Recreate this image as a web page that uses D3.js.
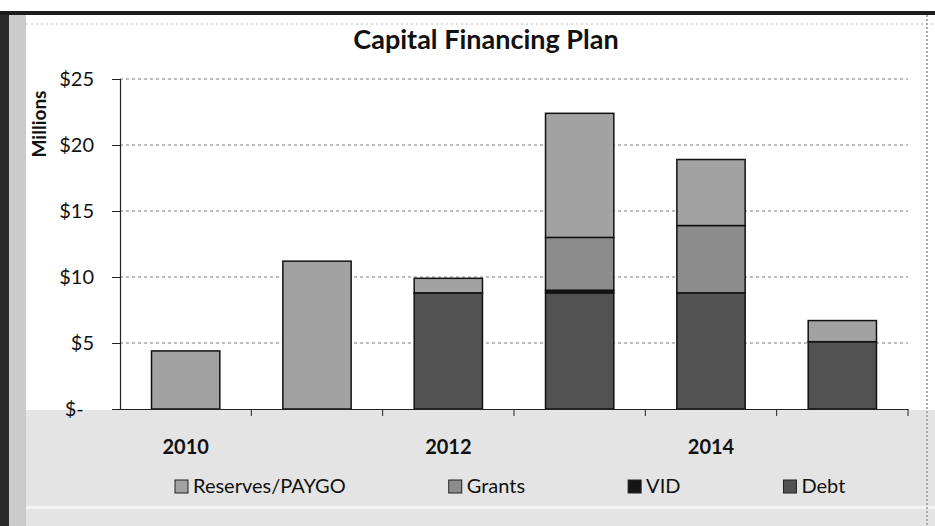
<!DOCTYPE html>
<html>
<head>
<meta charset="utf-8">
<script src="https://cdn.jsdelivr.net/npm/d3@7"></script>
<style>
  html, body { margin: 0; padding: 0; background: #fff; }
  svg { display: block; }
  text { font-family: Lato, "Open Sans", "DejaVu Sans", sans-serif; fill: #111; }
</style>
</head>
<body>
<svg id="chart" width="935" height="526"></svg>
<script>
// ---- data ----
const years = ["2010", "2011", "2012", "2013", "2014", "2015"];
const shownYearLabels = ["2010", "2012", "2014"];
const debt     = [0,   0,    8.8, 8.8, 8.8, 5.1];
const vid      = [0,   0,    0,   0.2, 0,   0];
const grants   = [0,   0,    0,   4.0, 5.1, 0];
const reserves = [4.4, 11.2, 1.1, 9.4, 5.0, 1.6];
const seriesNames = ["Reserves/PAYGO", "Grants", "VID", "Debt"];
const yTicks = [0, 5, 10, 15, 20, 25];
const title = "Capital Financing Plan";
const yTitle = "Millions";

// ---- layout ----
const W = 935, H = 526;
const plot = { left: 120, right: 908, top: 79, bottom: 409 };
const colors = {
  "Reserves/PAYGO": "#a2a2a2",
  "Grants": "#8c8c8c",
  "VID": "#151515",
  "Debt": "#525252"
};

const svg = d3.select("#chart");

// background / scanned frame
svg.append("rect").attr("x", 0).attr("y", 0).attr("width", W).attr("height", H).attr("fill", "#fff");
svg.append("rect").attr("x", 8).attr("y", plot.bottom + 1).attr("width", W - 8).attr("height", H - plot.bottom - 1).attr("fill", "#e4e4e4");
svg.append("rect").attr("x", 8).attr("y", 506).attr("width", W - 8).attr("height", 3).attr("fill", "#f4f4f4");
svg.append("rect").attr("x", 0).attr("y", 12).attr("width", 9).attr("height", H - 12).attr("fill", "#2b2b2b");
svg.append("rect").attr("x", 9).attr("y", 14).attr("width", 17).attr("height", H - 14).attr("fill", "#cbcbcb");
svg.append("rect").attr("x", 0).attr("y", 11).attr("width", W).attr("height", 4).attr("fill", "#1c1c1c");
svg.append("line").attr("x1", 26).attr("x2", W).attr("y1", 24).attr("y2", 24)
  .attr("stroke", "#bbb").attr("stroke-width", 1).attr("stroke-dasharray", "2,3");
svg.append("line").attr("x1", 927).attr("x2", 927).attr("y1", 15).attr("y2", H)
  .attr("stroke", "#aaa").attr("stroke-width", 2).attr("stroke-dasharray", "2,2");

// scales
const x = d3.scaleBand().domain(years).range([plot.left, plot.right]).paddingInner(0.48).paddingOuter(0.24);
const y = d3.scaleLinear().domain([0, 25]).range([plot.bottom, plot.top]);

// gridlines
svg.append("g")
  .selectAll("line")
  .data(yTicks.filter(d => d > 0))
  .join("line")
  .attr("x1", plot.left).attr("x2", plot.right)
  .attr("y1", d => y(d)).attr("y2", d => y(d))
  .attr("stroke", "#7a7a7a").attr("stroke-width", 1).attr("stroke-dasharray", "3,3");

// stacked bars (bottom -> top: Debt, VID, Grants, Reserves/PAYGO)
const table = years.map((yr, i) => ({
  year: yr,
  "Debt": debt[i], "VID": vid[i], "Grants": grants[i], "Reserves/PAYGO": reserves[i]
}));
const stackKeys = ["Debt", "VID", "Grants", "Reserves/PAYGO"];
const stacked = d3.stack().keys(stackKeys)(table);

svg.append("g")
  .selectAll("g")
  .data(stacked)
  .join("g")
  .attr("fill", d => colors[d.key])
  .selectAll("rect")
  .data(d => d.filter(s => s[1] - s[0] > 0))
  .join("rect")
  .attr("x", d => x(d.data.year))
  .attr("width", x.bandwidth())
  .attr("y", d => y(d[1]))
  .attr("height", d => y(d[0]) - y(d[1]))
  .attr("stroke", "#111")
  .attr("stroke-width", 1.5);

// y axis
const yAxis = d3.axisLeft(y)
  .tickValues(yTicks)
  .tickSize(8)
  .tickPadding(18)
  .tickFormat(d => d === 0 ? "$-  " : "$" + d);
const gy = svg.append("g").attr("transform", `translate(${plot.left},0)`).call(yAxis);
gy.select(".domain").attr("stroke", "#222").attr("stroke-width", 1.2);
gy.selectAll(".tick line").attr("stroke", "#222");
gy.selectAll(".tick text").style("font-size", "20px").attr("fill", "#111")
  .attr("xml:space", "preserve").style("white-space", "pre");

// x axis
const xAxis = d3.axisBottom(x).tickSize(0).tickPadding(31)
  .tickFormat(d => shownYearLabels.includes(d) ? d : "");
const gx = svg.append("g").attr("transform", `translate(0,${plot.bottom})`).call(xAxis);
gx.select(".domain").attr("stroke", "#222").attr("stroke-width", 1.2);
gx.selectAll(".tick text").style("font-size", "20px").style("font-weight", "bold").attr("fill", "#111");
// boundary tick marks between categories
const bounds = years.map((yr, i) => plot.left + i * x.step()).concat([plot.right]).slice(1);
svg.append("g").selectAll("line").data(bounds).join("line")
  .attr("x1", d => d).attr("x2", d => d)
  .attr("y1", plot.bottom).attr("y2", plot.bottom + 7)
  .attr("stroke", "#222");

// title
svg.append("text")
  .attr("x", 486).attr("y", 49)
  .attr("text-anchor", "middle")
  .style("font-size", "27px").style("font-weight", "bold")
  .text(title);

// y title
svg.append("text")
  .attr("transform", `translate(46,${124}) rotate(-90)`)
  .attr("text-anchor", "middle")
  .style("font-size", "19px").style("font-weight", "bold")
  .text(yTitle);

// legend
const legend = svg.append("g").attr("transform", "translate(175,486)");
let lx = 0;
seriesNames.forEach(name => {
  const g = legend.append("g").attr("transform", `translate(${lx},0)`);
  g.append("rect").attr("x", 0).attr("y", -6).attr("width", 13).attr("height", 13)
    .attr("fill", colors[name]).attr("stroke", "#222").attr("stroke-width", 1);
  const t = g.append("text").attr("x", 18).attr("y", 7)
    .style("font-size", "20px").text(name);
  lx += 18 + t.node().getComputedTextLength() + 103;
});
</script>
</body>
</html>
